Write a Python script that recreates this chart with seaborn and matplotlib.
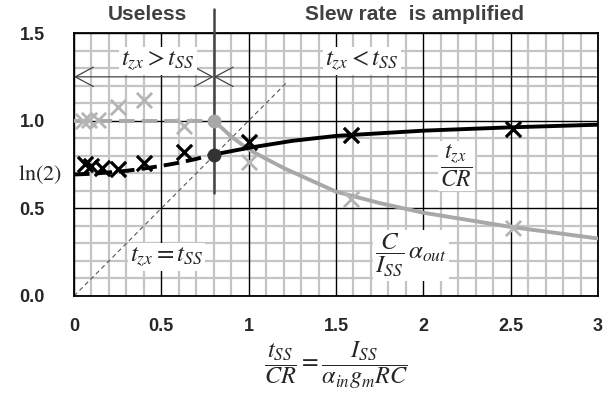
import numpy as np
import pandas as pd
import matplotlib
matplotlib.use("Agg")
import matplotlib.pyplot as plt
from matplotlib.patches import FancyArrowPatch
import seaborn as sns

# ---------------- data ----------------
x_dash_black = [0.0, 0.1, 0.2, 0.3, 0.4, 0.5, 0.6, 0.7, 0.8]
y_dash_black = [0.693, 0.697, 0.705, 0.714, 0.727, 0.742, 0.76, 0.782, 0.807]

x_solid_black = [0.8, 0.9, 1.0, 1.25, 1.5, 2.0, 2.5, 3.0]
y_solid_black = [0.807, 0.826, 0.845, 0.885, 0.913, 0.943, 0.962, 0.977]

x_dash_grey = [0.0, 0.8]
y_dash_grey = [1.0, 1.0]

x_solid_grey = [0.8, 0.9, 1.0, 1.2, 1.4, 1.5, 1.75, 2.0, 2.5, 3.0]
y_solid_grey = [1.0, 0.91, 0.835, 0.73, 0.64, 0.595, 0.53, 0.475, 0.394, 0.328]

x_mark_black = [0.063, 0.1, 0.158, 0.251, 0.398, 0.631, 1.0, 1.585, 2.512]
y_mark_black = [0.754, 0.744, 0.729, 0.725, 0.76, 0.82, 0.877, 0.92, 0.953]

x_mark_grey = [0.05, 0.085, 0.135, 0.251, 0.398, 0.631, 1.0, 1.585, 2.512]
y_mark_grey = [1.0, 1.005, 1.005, 1.076, 1.12, 0.968, 0.763, 0.555, 0.385]

x_diag = [0.0, 1.22]
y_diag = [0.0, 1.22]

x_knee = 0.8
knee_black = 0.807
knee_grey = 1.0

xticks = [0, 0.5, 1, 1.5, 2, 2.5, 3]
xtick_labels = ["0", "0.5", "1", "1.5", "2", "2.5", "3"]
yticks = [0.0, 0.5, 1.0, 1.5]
ytick_labels = ["0.0", "0.5", "1.0", "1.5"]

# ---------------- style ----------------
sns.set_style("white")
plt.rcParams["font.family"] = ["Liberation Sans", "DejaVu Sans"]
plt.rcParams["mathtext.fontset"] = "stix"

BLACK = "#000000"
GREY = "#a8a8a8"
GREY_M = "#b4b4b4"
GRID_MINOR = "#c4c4c4"
DARK = "#444444"

fig = plt.figure(figsize=(6.15, 4.08), dpi=100)
ax = fig.add_axes([74 / 615, 1 - 296 / 408, (598 - 74) / 615, (296 - 33) / 408])

ax.set_xlim(0, 3)
ax.set_ylim(0, 1.5)

# grid
ax.set_xticks(np.arange(0, 3.01, 0.1), minor=True)
ax.set_yticks(np.arange(0, 1.51, 0.1), minor=True)
ax.grid(which="minor", color=GRID_MINOR, lw=1.6, zorder=0)
ax.grid(which="major", visible=False)
for xv in xticks:
    ax.axvline(xv, color="black", lw=1.0, zorder=1)
for yv in yticks:
    ax.axhline(yv, color="black", lw=1.0, zorder=1)
ax.set_axisbelow(True)

# diagonal t_zx = t_SS
sns.lineplot(x=x_diag, y=y_diag, ax=ax, color="#555555", lw=0.8,
             linestyle=(0, (4, 3)), zorder=2)

# grey curve
sns.lineplot(x=x_dash_grey, y=y_dash_grey, ax=ax, color=GREY, lw=2.8,
             linestyle=(0, (4, 1.8)), zorder=3)
sns.lineplot(x=x_solid_grey, y=y_solid_grey, ax=ax, color=GREY, lw=2.8,
             zorder=3)
sns.scatterplot(x=x_mark_grey, y=y_mark_grey, ax=ax, marker="x", s=120,
                color=GREY_M, linewidth=2.0, zorder=4)

# black curve
sns.lineplot(x=x_dash_black, y=y_dash_black, ax=ax, color=BLACK, lw=2.8,
             linestyle=(0, (4, 1.8)), zorder=5)
sns.lineplot(x=x_solid_black, y=y_solid_black, ax=ax, color=BLACK, lw=2.8,
             zorder=5)
sns.scatterplot(x=x_mark_black, y=y_mark_black, ax=ax, marker="x", s=120,
                color=BLACK, linewidth=2.3, zorder=6)

# knee dots
ax.plot([x_knee], [knee_grey], "o", ms=9, color=GREY, zorder=7)
ax.plot([x_knee], [knee_black], "o", ms=9, color="#333333", zorder=7)

# vertical separator
ax.plot([x_knee, x_knee], [0.59, 1.635], color=DARK, lw=1.8, zorder=6,
        clip_on=False)

# arrows at y = 1.25
arr1 = FancyArrowPatch((0.0, 1.25), (x_knee, 1.25),
                       arrowstyle="<->,head_length=13,head_width=7",
                       mutation_scale=1, color=DARK, lw=0.9, zorder=6,
                       shrinkA=0, shrinkB=0)
ax.add_patch(arr1)
arr2 = FancyArrowPatch((x_knee, 1.25), (2.99, 1.25),
                       arrowstyle="<-,head_length=13,head_width=7",
                       mutation_scale=1, color=DARK, lw=0.9, zorder=6,
                       shrinkA=0, shrinkB=0)
ax.add_patch(arr2)

box = dict(facecolor="white", edgecolor="none", pad=1.5)
ax.text(0.48, 1.34, r"$t_{zx} > t_{SS}$", fontsize=18, ha="center",
        va="center", bbox=box, zorder=8)
ax.text(1.65, 1.34, r"$t_{zx} < t_{SS}$", fontsize=18, ha="center",
        va="center", bbox=box, zorder=8)
ax.text(0.53, 0.22, r"$t_{zx} = t_{SS}$", fontsize=18, ha="center",
        va="center", bbox=box, zorder=8)
ax.text(2.19, 0.74, r"$\dfrac{t_{zx}}{CR}$", fontsize=17, ha="center",
        va="center", bbox=box, zorder=8)
ax.text(1.93, 0.23, r"$\dfrac{C}{I_{SS}}\,\alpha_{out}$", fontsize=18,
        ha="center", va="center", bbox=box, zorder=8)

# region titles
ax.text(0.42, 1.0 + 18 / 263, "Useless", transform=ax.get_xaxis_transform(),
        fontsize=15, fontweight="bold", color="#404040", ha="center",
        va="center")
ax.text(1.95, 1.0 + 18 / 263, "Slew rate  is amplified",
        transform=ax.get_xaxis_transform(), fontsize=15, fontweight="bold",
        color="#404040", ha="center", va="center")

# ticks
ax.set_xticks(xticks)
ax.set_xticklabels(xtick_labels, fontsize=13, fontweight="bold")
ax.set_yticks(yticks)
ax.set_yticklabels(ytick_labels, fontsize=13, fontweight="bold")
ax.tick_params(axis="both", which="both", length=0)
ax.tick_params(axis="x", pad=16)
ax.tick_params(axis="y", pad=21)

ax.text(-0.07, np.log(2), r"$\mathrm{ln(2)}$", fontsize=16, ha="right",
        va="center")

ax.set_xlabel(r"$\dfrac{t_{SS}}{CR} = \dfrac{I_{SS}}{\alpha_{in} g_m RC}$",
              fontsize=17.5, labelpad=3)
ax.set_ylabel("")

for s in ax.spines.values():
    s.set_color("black")
    s.set_linewidth(1.3)
    s.set_visible(True)

fig.savefig("out.png", dpi=100)
